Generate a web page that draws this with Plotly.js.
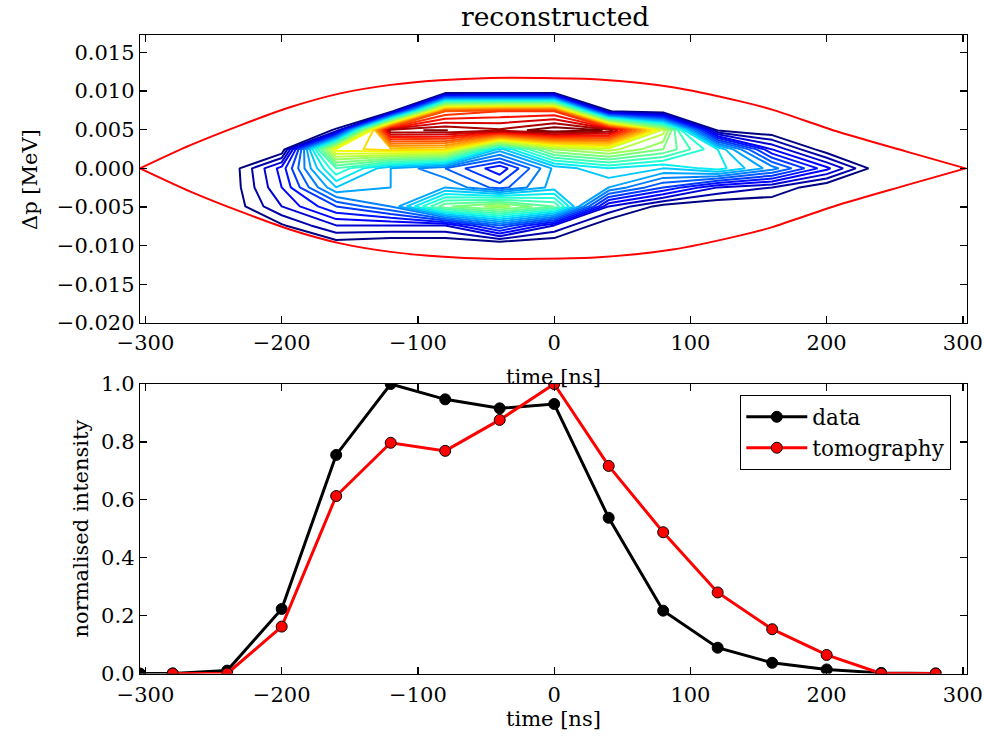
<!DOCTYPE html>
<html>
<head>
<meta charset="utf-8">
<script src="https://cdn.plot.ly/plotly-3.0.1.min.js"></script>
<style>html,body{margin:0;padding:0;background:#fff}#chart{width:984px;height:739px}</style>
</head>
<body>
<div id="chart"></div>
<script>
// ---- phase-space reconstruction grid ----
const contourTime = [-280, -240, -200, -160, -120, -80, -40, 0, 40, 80, 120, 160, 200, 240, 280];
const contourDp = [-0.0123, -0.00984, -0.00738, -0.00492, -0.00246, 0, 0.00246, 0.00492, 0.00738, 0.00984, 0.0123];
// rows follow contourDp (bottom to top), columns follow contourTime
const density = [
  [0, 0, 0,    0,    0,     0,     0,    0,    0,    0,    0,   0,   0,   0, 0],
  [0, 0, 0,    0.4,  0,     0,     0,    0,    0,    0,    0,   0,   0,   0, 0],
  [0, 0, 0.85, 3,    3,     3,     7,    3,    0,    0,    0,   0,   0,   0, 0],
  [0, 0, 3,    6,    8,     14.8,  16.5, 14,   3,    0.5,  0,   0,   0,   0, 0],
  [0, 0, 4,    10,   9,     9,     6.5,  9.5,  9,    6,    3,   2,   0,   0, 0],
  [0, 0, 4.4,  13,   9,     7,     4.25, 9.25, 11,   10,   11.5,8.5, 4.3, 0, 0],
  [0, 0, 0,    19.5, 20.5,  20,    9.5,  16,   17.5, 15,   11,  4,   0.2, 0, 0],
  [0, 0, 0,    1.1,  28.94, 29.04, 28.2, 29.8, 28.9, 17.5, 0.9, 0,   0,   0, 0],
  [0, 0, 0,    0,    0,     24,    25,   25,   1.05, 0,    0,   0,   0,   0, 0],
  [0, 0, 0,    0,    0,     0,     0,    0,    0,    0,    0,   0,   0,   0, 0],
  [0, 0, 0,    0,    0,     0,     0,    0,    0,    0,    0,   0,   0,   0, 0]
];
const contourLevelStart = 1, contourLevelEnd = 29, contourLevelStep = 1;

// ---- separatrix (bucket boundary) ----
const sepTime = [-304, -267, -230, -194, -157, -120, -84, -47, -11, 33, 87, 136, 160, 209, 258, 302];
const sepUpper = [0, 0.0030, 0.0056, 0.0079, 0.0097, 0.0108, 0.0114, 0.0117, 0.0117, 0.0115, 0.0105, 0.0087, 0.0076, 0.0047, 0.0022, 0];
const sepLower = [0, -0.0030, -0.0056, -0.0079, -0.0097, -0.0108, -0.0114, -0.0117, -0.0117, -0.0115, -0.0105, -0.0087, -0.0076, -0.0047, -0.0022, 0];

// ---- longitudinal profiles ----
const dataTime = [-304, -280, -240, -200, -160, -120, -80, -40, 0, 40, 80, 120, 160, 200, 240, 280];
const dataIntensity = [0, 0, 0.01, 0.223, 0.755, 1.0, 0.947, 0.916, 0.931, 0.538, 0.217, 0.089, 0.037, 0.014, 0.002, 0];
const tomoTime = [-280, -240, -200, -160, -120, -80, -40, 0, 40, 80, 120, 160, 200, 240, 280];
const tomoIntensity = [0, 0, 0.162, 0.613, 0.797, 0.769, 0.876, 1.0, 0.717, 0.488, 0.28, 0.153, 0.064, 0, 0];

const topTicksY = [-0.020, -0.015, -0.010, -0.005, 0.000, 0.005, 0.010, 0.015];
const timeTicks = [-300, -200, -100, 0, 100, 200, 300];

// matplotlib "jet"
const mplJet = [
  [0, 'rgb(0,0,128)'], [0.11, 'rgb(0,0,255)'], [0.125, 'rgb(0,0,255)'],
  [0.34, 'rgb(0,219,255)'], [0.35, 'rgb(0,230,247)'], [0.375, 'rgb(21,255,226)'],
  [0.64, 'rgb(239,255,8)'], [0.65, 'rgb(247,245,0)'], [0.66, 'rgb(255,236,0)'],
  [0.89, 'rgb(255,19,0)'], [0.91, 'rgb(232,0,0)'], [1, 'rgb(128,0,0)']
];

const FONT = 'DejaVu Serif, Liberation Serif, serif';

const traces = [
  {
    type: 'contour', x: contourTime, y: contourDp, z: density,
    xaxis: 'x', yaxis: 'y',
    autocontour: false,
    contours: {start: contourLevelStart, end: contourLevelEnd, size: contourLevelStep, coloring: 'lines'},
    line: {width: 2, smoothing: 0},
    colorscale: mplJet, showscale: false, hoverinfo: 'skip', showlegend: false
  },
  {type: 'scatter', mode: 'lines', x: sepTime, y: sepUpper, xaxis: 'x', yaxis: 'y',
   line: {color: '#ff0000', width: 2, shape: 'spline', smoothing: 0.8}, showlegend: false, hoverinfo: 'skip'},
  {type: 'scatter', mode: 'lines', x: sepTime, y: sepLower, xaxis: 'x', yaxis: 'y',
   line: {color: '#ff0000', width: 2, shape: 'spline', smoothing: 0.8}, showlegend: false, hoverinfo: 'skip'},
  {type: 'scatter', mode: 'lines+markers', name: 'data', x: dataTime, y: dataIntensity,
   xaxis: 'x2', yaxis: 'y2',
   line: {color: '#000000', width: 3},
   marker: {color: '#000000', size: 11, line: {color: '#000000', width: 1}}},
  {type: 'scatter', mode: 'lines+markers', name: 'tomography', x: tomoTime, y: tomoIntensity,
   xaxis: 'x2', yaxis: 'y2',
   line: {color: '#ff0000', width: 3},
   marker: {color: '#ff0000', size: 11, line: {color: '#000000', width: 1}}}
];

const axisCommon = {
  showline: true, linecolor: '#000', linewidth: 1.3, mirror: 'ticks',
  ticks: 'inside', ticklen: 7, tickwidth: 1.3, tickcolor: '#000',
  showgrid: false, zeroline: false,
  tickfont: {family: FONT, size: 21, color: '#000'}
};

const xDomain = [140 / 984, 967 / 984];
const layout = {
  width: 984, height: 739,
  margin: {l: 0, r: 0, t: 0, b: 0},
  paper_bgcolor: '#fff', plot_bgcolor: '#fff',
  font: {family: FONT, color: '#000'},
  xaxis: Object.assign({}, axisCommon, {domain: xDomain, range: [-304, 303], anchor: 'y',
    tickmode: 'array', tickvals: timeTicks}),
  yaxis: Object.assign({}, axisCommon, {domain: [1 - 323 / 739, 1 - 35 / 739], range: [-0.020, 0.01725], anchor: 'x',
    tickmode: 'array', tickvals: topTicksY, tickformat: '.3f'}),
  xaxis2: Object.assign({}, axisCommon, {domain: xDomain, range: [-304, 303], anchor: 'y2',
    tickmode: 'array', tickvals: timeTicks, ticklabelstandoff: 2}),
  yaxis2: Object.assign({}, axisCommon, {domain: [1 - 673.5 / 739, 1 - 384 / 739], range: [0, 1], anchor: 'x2',
    dtick: 0.2, tick0: 0, tickformat: '.1f'}),
  showlegend: true,
  legend: {x: 740 / 984, y: 1 - 395 / 739, xanchor: 'left', yanchor: 'top',
    bgcolor: '#fff', bordercolor: '#000', borderwidth: 1.3, itemwidth: 61,
    font: {family: FONT, size: 21.5, color: '#000'}},
  annotations: [
    {text: 'reconstructed', xref: 'paper', yref: 'paper', x: 555 / 984, y: 1 - 16 / 739,
     xanchor: 'center', yanchor: 'middle', showarrow: false, font: {family: FONT, size: 26.5, color: '#000'}},
    {text: 'Δp [MeV]', xref: 'paper', yref: 'paper', x: 30 / 984, y: 1 - 180 / 739, textangle: -90,
     xanchor: 'center', yanchor: 'middle', showarrow: false, font: {family: FONT, size: 21, color: '#000'}},
    {text: 'time [ns]', xref: 'paper', yref: 'paper', x: 553 / 984, y: 1 - 377 / 739,
     xanchor: 'center', yanchor: 'middle', showarrow: false, font: {family: FONT, size: 21, color: '#000'}},
    {text: 'normalised intensity', xref: 'paper', yref: 'paper', x: 80 / 984, y: 1 - 528.5 / 739, textangle: -90,
     xanchor: 'center', yanchor: 'middle', showarrow: false, font: {family: FONT, size: 21, color: '#000'}},
    {text: 'time [ns]', xref: 'paper', yref: 'paper', x: 553 / 984, y: 1 - 719 / 739,
     xanchor: 'center', yanchor: 'middle', showarrow: false, font: {family: FONT, size: 21, color: '#000'}}
  ]
};

Plotly.newPlot('chart', traces, layout, {displayModeBar: false, staticPlot: true});
</script>
</body>
</html>
